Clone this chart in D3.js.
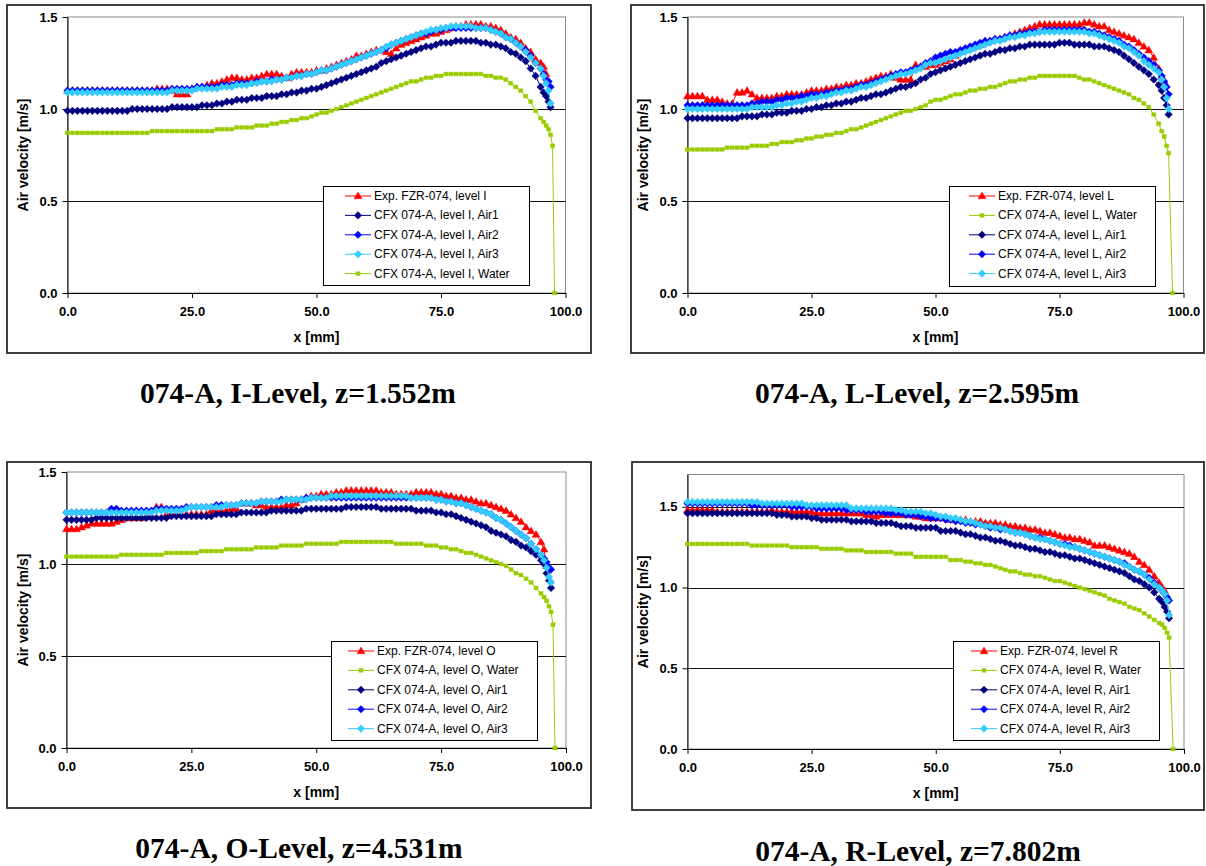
<!DOCTYPE html>
<html>
<head>
<meta charset="utf-8">
<script src="https://cdn.jsdelivr.net/npm/d3@7"></script>
<style>
  html, body { margin: 0; padding: 0; background: #fff; }
  svg { display: block; }
</style>
</head>
<body>
<svg id="chart" width="1206" height="866"></svg>
<script>
// Radial sample positions across the gap in mm; the last entries are the refined near-wall points.
const xGrid = [
  0,1,2,3,4,5,6,7,8,9,
  10,11,12,13,14,15,16,17,18,19,
  20,21,22,23,24,25,26,27,28,29,
  30,31,32,33,34,35,36,37,38,39,
  40,41,42,43,44,45,46,47,48,49,
  50,51,52,53,54,55,56,57,58,59,
  60,61,62,63,64,65,66,67,68,69,
  70,71,72,73,74,75,76,77,78,79,
  80,81,82,83,84,85,86,87,88,89,
  90,91,92,93,94,
  95,95.6,96.1,96.6,97.0,97.4,97.8
];

// ---- Level I, z = 1.552 m ----
const expI = [
  1.10,1.10,1.10,1.10,1.10,1.10,1.10,1.10,1.10,1.10,
  1.10,1.10,1.10,1.10,1.10,1.10,1.10,1.10,1.11,1.11,
  1.11,1.10,1.08,1.08,1.08,1.11,1.12,1.12,1.13,1.14,
  1.14,1.15,1.16,1.17,1.17,1.16,1.16,1.17,1.17,1.18,
  1.19,1.19,1.19,1.18,1.17,1.19,1.20,1.20,1.20,1.20,
  1.21,1.21,1.22,1.23,1.24,1.25,1.26,1.27,1.29,1.29,
  1.30,1.31,1.32,1.32,1.31,1.30,1.33,1.35,1.36,1.37,
  1.38,1.39,1.40,1.41,1.41,1.42,1.43,1.44,1.45,1.45,
  1.46,1.46,1.46,1.46,1.45,1.45,1.44,1.43,1.41,1.39,
  1.38,1.36,1.33,1.31,1.27,
  1.25,1.23,1.19
];
const airI1 = [
  0.99,0.99,0.99,0.99,0.99,0.99,0.99,0.99,0.99,0.99,
  0.99,0.99,0.99,1.00,1.00,1.00,1.00,1.00,1.00,1.00,
  1.00,1.01,1.01,1.01,1.01,1.01,1.01,1.02,1.02,1.02,
  1.03,1.03,1.04,1.04,1.05,1.05,1.05,1.06,1.06,1.06,
  1.07,1.07,1.07,1.08,1.08,1.09,1.09,1.10,1.10,1.11,
  1.11,1.12,1.13,1.14,1.15,1.16,1.17,1.18,1.19,1.20,
  1.21,1.22,1.23,1.25,1.26,1.27,1.28,1.29,1.30,1.31,
  1.32,1.33,1.34,1.34,1.35,1.36,1.36,1.36,1.37,1.37,
  1.37,1.37,1.37,1.36,1.36,1.35,1.35,1.34,1.33,1.31,
  1.30,1.28,1.26,1.22,1.18,
  1.12,1.09,1.07,1.04,1.01
];
const airI2 = [
  1.10,1.10,1.10,1.10,1.10,1.10,1.10,1.10,1.10,1.10,
  1.10,1.10,1.10,1.10,1.10,1.10,1.10,1.10,1.10,1.10,
  1.10,1.11,1.11,1.11,1.11,1.11,1.12,1.12,1.12,1.12,
  1.12,1.13,1.13,1.13,1.14,1.14,1.14,1.14,1.15,1.15,
  1.15,1.16,1.16,1.16,1.17,1.17,1.18,1.18,1.19,1.19,
  1.20,1.21,1.21,1.22,1.23,1.24,1.25,1.26,1.27,1.28,
  1.29,1.30,1.31,1.32,1.33,1.35,1.36,1.37,1.38,1.39,
  1.40,1.41,1.41,1.42,1.43,1.43,1.44,1.44,1.44,1.44,
  1.44,1.44,1.44,1.44,1.44,1.43,1.42,1.41,1.39,1.38,
  1.36,1.34,1.32,1.29,1.25,
  1.22,1.19,1.16,1.15,1.12
];
const airI3 = [
  1.09,1.09,1.09,1.09,1.09,1.09,1.09,1.09,1.09,1.09,
  1.09,1.09,1.09,1.09,1.09,1.09,1.09,1.09,1.09,1.09,
  1.09,1.10,1.10,1.10,1.10,1.10,1.11,1.11,1.11,1.11,
  1.11,1.12,1.12,1.12,1.13,1.13,1.13,1.14,1.14,1.15,
  1.15,1.15,1.16,1.16,1.17,1.17,1.18,1.18,1.19,1.19,
  1.20,1.21,1.21,1.22,1.23,1.24,1.25,1.26,1.27,1.28,
  1.29,1.30,1.31,1.32,1.34,1.35,1.36,1.37,1.38,1.39,
  1.40,1.41,1.42,1.43,1.43,1.44,1.44,1.45,1.45,1.45,
  1.45,1.45,1.44,1.44,1.44,1.43,1.42,1.41,1.39,1.38,
  1.36,1.34,1.31,1.28,1.25,
  1.22,1.18,1.14,1.10,1.03
];
const waterI = [
  0.87,0.87,0.87,0.87,0.87,0.87,0.87,0.87,0.87,0.87,
  0.87,0.87,0.87,0.87,0.87,0.87,0.87,0.88,0.88,0.88,
  0.88,0.88,0.88,0.88,0.88,0.88,0.88,0.88,0.88,0.88,
  0.89,0.89,0.89,0.89,0.90,0.90,0.90,0.90,0.91,0.91,
  0.91,0.92,0.92,0.93,0.93,0.94,0.94,0.95,0.95,0.96,
  0.97,0.98,0.98,0.99,1.00,1.01,1.02,1.03,1.04,1.05,
  1.06,1.07,1.08,1.09,1.10,1.11,1.12,1.13,1.14,1.15,
  1.15,1.16,1.17,1.17,1.18,1.18,1.19,1.19,1.19,1.19,
  1.19,1.19,1.19,1.19,1.18,1.18,1.17,1.17,1.16,1.14,
  1.12,1.10,1.07,1.04,0.99,
  0.95,0.93,0.91,0.89,0.86,0.80,0.00
];

// ---- Level L, z = 2.595 m ----
const expL = [
  1.07,1.07,1.07,1.07,1.05,1.05,1.05,1.04,1.03,1.03,
  1.09,1.09,1.10,1.08,1.06,1.06,1.06,1.06,1.07,1.07,
  1.08,1.08,1.08,1.08,1.09,1.10,1.10,1.10,1.11,1.11,
  1.12,1.12,1.13,1.13,1.14,1.14,1.15,1.16,1.17,1.18,
  1.18,1.19,1.17,1.16,1.16,1.16,1.24,1.23,1.23,1.24,
  1.24,1.25,1.26,1.27,1.29,1.31,1.32,1.33,1.34,1.35,
  1.36,1.37,1.38,1.38,1.39,1.40,1.41,1.42,1.43,1.44,
  1.45,1.46,1.46,1.46,1.46,1.46,1.46,1.46,1.46,1.46,
  1.47,1.47,1.46,1.45,1.45,1.43,1.42,1.41,1.40,1.39,
  1.38,1.36,1.34,1.32,1.28,
  1.22,1.18,1.15
];
const airL1 = [
  0.95,0.95,0.95,0.95,0.95,0.95,0.95,0.95,0.95,0.95,
  0.95,0.96,0.96,0.96,0.96,0.97,0.97,0.97,0.98,0.98,
  0.98,0.99,0.99,0.99,1.00,1.00,1.01,1.01,1.02,1.02,
  1.03,1.03,1.04,1.04,1.05,1.06,1.06,1.07,1.08,1.08,
  1.09,1.10,1.11,1.12,1.12,1.13,1.14,1.16,1.17,1.19,
  1.20,1.21,1.22,1.23,1.24,1.25,1.26,1.27,1.28,1.29,
  1.30,1.30,1.31,1.32,1.32,1.33,1.33,1.34,1.34,1.35,
  1.35,1.35,1.35,1.35,1.35,1.36,1.36,1.36,1.35,1.35,
  1.35,1.35,1.34,1.34,1.34,1.33,1.32,1.31,1.29,1.27,
  1.25,1.23,1.21,1.19,1.16,
  1.13,1.10,1.06,1.02,0.97
];
const airL2 = [
  1.02,1.02,1.02,1.02,1.02,1.02,1.02,1.02,1.02,1.02,
  1.02,1.02,1.02,1.03,1.03,1.04,1.04,1.04,1.05,1.05,
  1.06,1.06,1.06,1.07,1.07,1.08,1.08,1.08,1.09,1.09,
  1.10,1.10,1.11,1.11,1.12,1.13,1.13,1.14,1.15,1.16,
  1.17,1.18,1.19,1.20,1.20,1.21,1.22,1.23,1.25,1.26,
  1.28,1.29,1.30,1.31,1.31,1.32,1.33,1.34,1.35,1.36,
  1.37,1.37,1.38,1.38,1.39,1.40,1.40,1.41,1.41,1.42,
  1.42,1.42,1.43,1.43,1.43,1.43,1.43,1.43,1.43,1.43,
  1.43,1.42,1.42,1.41,1.40,1.39,1.38,1.37,1.35,1.34,
  1.32,1.30,1.28,1.26,1.24,
  1.21,1.18,1.15,1.12,1.08
];
const airL3 = [
  1.00,1.00,1.00,1.00,1.00,1.00,1.00,1.00,1.00,1.00,
  1.00,1.00,1.00,1.01,1.01,1.01,1.01,1.01,1.02,1.02,
  1.03,1.03,1.04,1.04,1.05,1.06,1.06,1.07,1.07,1.08,
  1.09,1.09,1.10,1.10,1.11,1.12,1.12,1.13,1.14,1.15,
  1.16,1.17,1.18,1.19,1.19,1.20,1.21,1.22,1.24,1.25,
  1.25,1.26,1.27,1.28,1.29,1.30,1.31,1.32,1.33,1.34,
  1.35,1.36,1.37,1.37,1.38,1.39,1.39,1.40,1.40,1.41,
  1.41,1.42,1.42,1.42,1.42,1.42,1.42,1.42,1.42,1.42,
  1.42,1.41,1.41,1.40,1.39,1.38,1.37,1.36,1.34,1.33,
  1.31,1.29,1.26,1.24,1.22,
  1.20,1.16,1.12,1.06,1.00
];
const waterL = [
  0.78,0.78,0.78,0.78,0.78,0.78,0.78,0.78,0.79,0.79,
  0.79,0.79,0.79,0.80,0.80,0.80,0.80,0.81,0.81,0.82,
  0.82,0.82,0.83,0.83,0.84,0.84,0.85,0.85,0.86,0.86,
  0.87,0.87,0.88,0.89,0.89,0.90,0.91,0.92,0.93,0.94,
  0.95,0.96,0.97,0.98,0.99,0.99,1.00,1.01,1.02,1.04,
  1.05,1.05,1.06,1.07,1.08,1.08,1.09,1.10,1.10,1.11,
  1.11,1.12,1.12,1.13,1.14,1.15,1.15,1.16,1.16,1.17,
  1.17,1.18,1.18,1.18,1.18,1.18,1.18,1.18,1.18,1.17,
  1.16,1.16,1.15,1.14,1.13,1.12,1.11,1.10,1.09,1.08,
  1.06,1.05,1.03,1.01,0.97,
  0.92,0.88,0.85,0.80,0.76,null,0.00
];

// ---- Level O, z = 4.531 m ----
const expO = [
  1.19,1.19,1.19,1.20,1.21,1.22,1.22,1.22,1.22,1.22,
  1.23,1.24,1.25,1.25,1.25,1.25,1.26,1.26,1.31,1.31,
  1.27,1.27,1.27,1.27,1.27,1.27,1.27,1.27,1.27,1.29,
  1.29,1.29,1.29,1.30,1.30,1.33,1.33,1.33,1.32,1.32,
  1.31,1.31,1.31,1.31,1.32,1.32,1.33,1.35,1.36,1.37,
  1.37,1.38,1.38,1.38,1.39,1.39,1.40,1.40,1.40,1.40,
  1.40,1.40,1.40,1.39,1.39,1.39,1.38,1.38,1.38,1.38,
  1.39,1.39,1.39,1.39,1.38,1.38,1.37,1.37,1.36,1.36,
  1.35,1.35,1.34,1.33,1.33,1.32,1.31,1.30,1.29,1.27,
  1.25,1.23,1.20,1.18,1.16,
  1.12,1.08,0.99
];
const airO1 = [
  1.24,1.24,1.24,1.24,1.24,1.24,1.25,1.25,1.25,1.25,
  1.25,1.25,1.25,1.25,1.25,1.25,1.25,1.25,1.25,1.25,
  1.25,1.26,1.26,1.26,1.26,1.26,1.26,1.26,1.26,1.26,
  1.27,1.27,1.27,1.27,1.27,1.28,1.28,1.28,1.28,1.28,
  1.28,1.29,1.29,1.29,1.29,1.29,1.29,1.29,1.30,1.30,
  1.30,1.30,1.30,1.30,1.30,1.30,1.31,1.31,1.31,1.31,
  1.31,1.31,1.31,1.30,1.30,1.30,1.30,1.30,1.30,1.30,
  1.29,1.29,1.29,1.29,1.28,1.28,1.27,1.27,1.26,1.25,
  1.24,1.23,1.22,1.21,1.20,1.18,1.17,1.16,1.15,1.13,
  1.12,1.10,1.09,1.07,1.05,
  1.02,1.00,0.95,0.91,0.87
];
const airO2 = [
  1.28,1.28,1.28,1.28,1.28,1.28,1.28,1.28,1.28,1.30,
  1.30,1.29,1.29,1.29,1.29,1.29,1.29,1.29,1.30,1.30,
  1.30,1.30,1.30,1.30,1.31,1.31,1.31,1.31,1.31,1.31,
  1.32,1.32,1.32,1.32,1.32,1.33,1.33,1.33,1.33,1.34,
  1.34,1.34,1.34,1.35,1.35,1.35,1.35,1.35,1.36,1.36,
  1.36,1.36,1.36,1.36,1.36,1.36,1.36,1.36,1.36,1.36,
  1.36,1.36,1.36,1.36,1.36,1.36,1.36,1.36,1.36,1.36,
  1.36,1.36,1.36,1.36,1.35,1.35,1.34,1.34,1.33,1.33,
  1.32,1.31,1.30,1.29,1.28,1.27,1.25,1.24,1.22,1.20,
  1.18,1.16,1.14,1.11,1.08,
  1.05,1.03,1.01,0.98,0.97
];
const airO3 = [
  1.28,1.28,1.28,1.28,1.28,1.28,1.28,1.28,1.28,1.28,
  1.28,1.28,1.28,1.28,1.28,1.28,1.28,1.28,1.29,1.29,
  1.29,1.29,1.29,1.29,1.30,1.31,1.31,1.31,1.31,1.31,
  1.31,1.31,1.32,1.32,1.32,1.33,1.33,1.33,1.33,1.34,
  1.34,1.34,1.34,1.34,1.35,1.35,1.35,1.35,1.35,1.36,
  1.36,1.36,1.36,1.37,1.37,1.37,1.37,1.37,1.37,1.37,
  1.37,1.37,1.37,1.37,1.37,1.37,1.37,1.37,1.37,1.36,
  1.36,1.36,1.36,1.36,1.35,1.35,1.34,1.34,1.33,1.33,
  1.32,1.31,1.30,1.29,1.28,1.27,1.25,1.24,1.22,1.20,
  1.18,1.16,1.14,1.11,1.08,
  1.05,1.02,0.98,0.93,0.90
];
const waterO = [
  1.04,1.04,1.04,1.04,1.04,1.04,1.04,1.04,1.04,1.04,
  1.04,1.05,1.05,1.05,1.05,1.05,1.05,1.05,1.05,1.05,
  1.06,1.06,1.06,1.06,1.06,1.06,1.06,1.07,1.07,1.07,
  1.07,1.07,1.08,1.08,1.08,1.08,1.08,1.08,1.09,1.09,
  1.09,1.09,1.09,1.10,1.10,1.10,1.10,1.10,1.11,1.11,
  1.11,1.11,1.11,1.11,1.11,1.12,1.12,1.12,1.12,1.12,
  1.12,1.12,1.12,1.12,1.12,1.12,1.11,1.11,1.11,1.11,
  1.11,1.11,1.10,1.10,1.10,1.09,1.09,1.08,1.08,1.07,
  1.06,1.06,1.05,1.04,1.03,1.02,1.01,1.00,0.99,0.97,
  0.95,0.94,0.92,0.90,0.87,
  0.84,0.82,0.80,0.77,0.74,0.67,0.00
];

// ---- Level R, z = 7.802 m ----
const expR = [
  1.48,1.48,1.48,1.48,1.48,1.48,1.47,1.47,1.47,1.47,
  1.47,1.47,1.47,1.47,1.47,1.47,1.47,1.48,1.47,1.47,
  1.47,1.47,1.47,1.47,1.47,1.47,1.46,1.46,1.46,1.46,
  1.46,1.46,1.46,1.46,1.46,1.46,1.45,1.45,1.44,1.45,
  1.45,1.45,1.45,1.45,1.45,1.45,1.44,1.44,1.43,1.43,
  1.43,1.43,1.43,1.42,1.42,1.42,1.42,1.41,1.41,1.41,
  1.40,1.40,1.40,1.39,1.39,1.38,1.38,1.37,1.37,1.36,
  1.36,1.35,1.34,1.34,1.33,1.32,1.31,1.31,1.30,1.30,
  1.29,1.28,1.26,1.26,1.26,1.25,1.24,1.23,1.22,1.21,
  1.19,1.16,1.14,1.11,1.07,
  1.03,1.00,0.98
];
const airR1 = [
  1.46,1.46,1.46,1.46,1.46,1.46,1.46,1.46,1.46,1.46,
  1.46,1.46,1.46,1.46,1.46,1.46,1.46,1.46,1.45,1.45,
  1.45,1.44,1.44,1.44,1.44,1.43,1.43,1.42,1.42,1.42,
  1.42,1.42,1.42,1.41,1.41,1.41,1.41,1.41,1.40,1.40,
  1.40,1.40,1.39,1.38,1.38,1.38,1.37,1.37,1.37,1.37,
  1.37,1.35,1.35,1.35,1.35,1.34,1.33,1.33,1.32,1.31,
  1.31,1.30,1.29,1.29,1.28,1.27,1.26,1.26,1.25,1.24,
  1.24,1.23,1.22,1.22,1.21,1.20,1.20,1.19,1.18,1.18,
  1.17,1.16,1.15,1.14,1.13,1.12,1.11,1.10,1.09,1.07,
  1.05,1.04,1.02,1.00,0.97,
  0.93,0.91,0.88,0.85,0.81
];
const airR2 = [
  1.52,1.52,1.52,1.52,1.52,1.52,1.52,1.52,1.52,1.52,
  1.52,1.52,1.52,1.51,1.51,1.51,1.51,1.51,1.51,1.51,
  1.51,1.50,1.50,1.50,1.50,1.50,1.49,1.49,1.49,1.49,
  1.49,1.49,1.48,1.48,1.48,1.48,1.47,1.47,1.47,1.47,
  1.46,1.46,1.46,1.46,1.45,1.45,1.45,1.44,1.44,1.43,
  1.43,1.43,1.42,1.42,1.41,1.41,1.40,1.40,1.39,1.39,
  1.38,1.37,1.37,1.36,1.36,1.35,1.34,1.34,1.33,1.32,
  1.31,1.31,1.30,1.29,1.28,1.27,1.27,1.26,1.25,1.24,
  1.23,1.22,1.21,1.20,1.19,1.18,1.17,1.16,1.15,1.13,
  1.11,1.10,1.08,1.06,1.03,
  1.00,0.98,0.96,0.94,0.92
];
const airR3 = [
  1.53,1.53,1.53,1.53,1.53,1.53,1.53,1.53,1.53,1.53,
  1.53,1.53,1.53,1.53,1.53,1.52,1.52,1.52,1.52,1.52,
  1.52,1.52,1.52,1.52,1.51,1.51,1.51,1.51,1.51,1.51,
  1.51,1.51,1.51,1.49,1.49,1.49,1.49,1.49,1.49,1.49,
  1.49,1.49,1.48,1.48,1.47,1.47,1.47,1.47,1.46,1.46,
  1.45,1.44,1.44,1.43,1.43,1.42,1.41,1.41,1.40,1.39,
  1.38,1.38,1.37,1.37,1.36,1.35,1.34,1.34,1.33,1.32,
  1.31,1.30,1.30,1.29,1.28,1.27,1.26,1.25,1.25,1.24,
  1.23,1.22,1.21,1.20,1.19,1.18,1.17,1.16,1.14,1.13,
  1.11,1.10,1.08,1.05,1.02,
  1.00,0.98,0.96,0.92,0.83
];
const waterR = [
  1.27,1.27,1.27,1.27,1.27,1.27,1.27,1.27,1.27,1.27,
  1.27,1.27,1.27,1.26,1.26,1.26,1.26,1.26,1.26,1.26,
  1.26,1.25,1.25,1.25,1.25,1.25,1.25,1.24,1.24,1.24,
  1.24,1.24,1.23,1.23,1.23,1.23,1.22,1.22,1.22,1.22,
  1.22,1.22,1.21,1.21,1.21,1.21,1.19,1.19,1.19,1.19,
  1.19,1.19,1.19,1.17,1.17,1.17,1.16,1.16,1.15,1.15,
  1.14,1.14,1.13,1.12,1.11,1.10,1.10,1.09,1.08,1.08,
  1.07,1.07,1.06,1.05,1.04,1.04,1.03,1.02,1.01,1.00,
  0.99,0.98,0.97,0.96,0.95,0.93,0.92,0.91,0.90,0.88,
  0.87,0.86,0.84,0.82,0.80,
  0.78,0.77,0.75,0.72,0.69,null,0.00
];

// Axis ticks
const xTicks = [0, 25, 50, 75, 100];
const yTicks = [0, 0.5, 1.0, 1.5];

// Measurement levels, in the order the four charts are laid out
const levelKeys = ["I", "L", "O", "R"];
const levelTitles = [
  "074-A, I-Level, z=1.552m",
  "074-A, L-Level, z=2.595m",
  "074-A, O-Level, z=4.531m",
  "074-A, R-Level, z=7.802m"
];
const levelSeries = [
  { exp: expI, air1: airI1, air2: airI2, air3: airI3, water: waterI },
  { exp: expL, air1: airL1, air2: airL2, air3: airL3, water: waterL },
  { exp: expO, air1: airO1, air2: airO2, air3: airO3, water: waterO },
  { exp: expR, air1: airR1, air2: airR2, air3: airR3, water: waterR }
];
// Series order (drawing order and legend order) per chart
const levelOrder = [
  ["exp", "air1", "air2", "air3", "water"],
  ["exp", "water", "air1", "air2", "air3"],
  ["exp", "water", "air1", "air2", "air3"],
  ["exp", "water", "air1", "air2", "air3"]
];
const seriesLabel = {
  exp:   k => `Exp. FZR-074, level ${k}`,
  air1:  k => `CFX 074-A, level ${k}, Air1`,
  air2:  k => `CFX 074-A, level ${k}, Air2`,
  air3:  k => `CFX 074-A, level ${k}, Air3`,
  water: k => `CFX 074-A, level ${k}, Water`
};

// ---- Appearance ----
const seriesStyle = {
  exp:   { color: "#FF0000", shape: "triangle" },
  air1:  { color: "#000080", shape: "diamond" },
  air2:  { color: "#0000FF", shape: "diamond" },
  air3:  { color: "#33CCFF", shape: "diamond" },
  water: { color: "#99CC00", shape: "square" }
};
const markerPath = {
  triangle: "M0,-4L4,2.8L-4,2.8Z",
  diamond:  "M0,-3.8L3.8,0L0,3.8L-3.8,0Z",
  square:   "M-2.1,-1.9H2.1V1.9H-2.1Z"
};

// Frame, plot area and legend geometry of each chart
const layout = [
  { box: [7, 5, 591, 353],    plot: [67.5, 17, 565.5, 293],  yMax: 1.5,
    legend: [323, 186, 206, 99],  legLine: [345, 371], legText: 374,
    title: [298, 393], yTitleX: 23 },
  { box: [631, 5, 1204, 353], plot: [687.5, 17, 1183.5, 293], yMax: 1.5,
    legend: [949, 186, 206, 100], legLine: [969, 995], legText: 998,
    title: [917, 393], yTitleX: 643 },
  { box: [7, 462, 591, 808],  plot: [66.5, 472, 566, 748],  yMax: 1.5,
    legend: [331, 641, 206, 99],  legLine: [348, 374], legText: 377,
    title: [299, 848], yTitleX: 23 },
  { box: [632, 462, 1204, 810], plot: [687.5, 474.5, 1184, 749], yMax: 1.7,
    legend: [953, 641, 206, 99],  legLine: [971, 997], legText: 1000,
    title: [918, 851], yTitleX: 643 }
];

const SANS = "'Liberation Sans', Arial, Helvetica, sans-serif";
const SERIF = "'Liberation Serif', 'Times New Roman', Times, serif";
const fmt = d3.format(".1f");
const svg = d3.select("#chart");

levelKeys.forEach((key, li) => {
  const L = layout[li];
  const g = svg.append("g");

  // outer frame of the chart
  g.append("rect")
    .attr("x", L.box[0]).attr("y", L.box[1])
    .attr("width", L.box[2] - L.box[0]).attr("height", L.box[3] - L.box[1])
    .attr("fill", "#fff").attr("stroke", "#2a2a2a").attr("stroke-width", 1.8);

  const x = d3.scaleLinear().domain([0, 100]).range([L.plot[0], L.plot[2]]);
  const y = d3.scaleLinear().domain([0, L.yMax]).range([L.plot[3], L.plot[1]]);

  // plot area border
  g.append("rect")
    .attr("x", L.plot[0]).attr("y", L.plot[1])
    .attr("width", L.plot[2] - L.plot[0]).attr("height", L.plot[3] - L.plot[1])
    .attr("fill", "#fff").attr("stroke", "#8a8a8a").attr("stroke-width", 1);

  // horizontal gridlines
  g.append("g").selectAll("line")
    .data(yTicks.filter(t => t > 0 && t < L.yMax - 1e-9))
    .join("line")
    .attr("x1", L.plot[0]).attr("x2", L.plot[2])
    .attr("y1", d => Math.round(y(d)) + 0.5).attr("y2", d => Math.round(y(d)) + 0.5)
    .attr("stroke", "#111").attr("stroke-width", 1);

  // axes
  const yAxis = g.append("g")
    .attr("transform", `translate(${L.plot[0]},0)`)
    .call(d3.axisLeft(y).tickValues(yTicks).tickFormat(fmt)
      .tickSize(5).tickSizeOuter(0).tickPadding(5));
  const xAxis = g.append("g")
    .attr("transform", `translate(0,${L.plot[3]})`)
    .call(d3.axisBottom(x).tickValues(xTicks).tickFormat(fmt)
      .tickSize(5).tickSizeOuter(0).tickPadding(9));
  [yAxis, xAxis].forEach(a => {
    a.selectAll("path.domain").attr("stroke", "#000").attr("stroke-width", 1);
    a.selectAll(".tick line").attr("stroke", "#000").attr("stroke-width", 1);
    a.selectAll(".tick text")
      .attr("fill", "#000")
      .style("font-family", SANS).style("font-size", "13px").style("font-weight", "bold");
  });

  // axis titles
  g.append("text")
    .attr("x", (L.plot[0] + L.plot[2]) / 2).attr("y", L.plot[3] + 44)
    .attr("text-anchor", "middle").attr("dominant-baseline", "central")
    .style("font-family", SANS).style("font-size", "14px").style("font-weight", "bold")
    .text("x [mm]");
  g.append("text")
    .attr("transform", `translate(${L.yTitleX},${(L.plot[1] + L.plot[3]) / 2}) rotate(-90)`)
    .attr("text-anchor", "middle").attr("dominant-baseline", "central")
    .style("font-family", SANS).style("font-size", "14px").style("font-weight", "bold")
    .text("Air velocity [m/s]");

  // data series: connecting line, then markers
  const line = d3.line().x(d => x(d.x)).y(d => y(d.v));
  levelOrder[li].forEach(s => {
    const st = seriesStyle[s];
    const pts = levelSeries[li][s]
      .map((v, i) => ({ x: xGrid[i], v }))
      .filter(d => d.v !== null);
    const sg = g.append("g");
    sg.append("path").datum(pts).attr("d", line)
      .attr("fill", "none").attr("stroke", st.color).attr("stroke-width", 1);
    sg.selectAll("path.m").data(pts).join("path").attr("class", "m")
      .attr("d", markerPath[st.shape])
      .attr("transform", d => `translate(${x(d.x)},${y(d.v)})`)
      .attr("fill", st.color).attr("stroke", st.color).attr("stroke-width", 0.4);
  });

  // legend
  const [lx, ly, lw, lh] = L.legend;
  const lg = g.append("g");
  lg.append("rect").attr("x", lx + 0.5).attr("y", ly + 0.5).attr("width", lw).attr("height", lh)
    .attr("fill", "#fff").attr("stroke", "#000").attr("stroke-width", 1);
  levelOrder[li].forEach((s, i) => {
    const st = seriesStyle[s];
    const cy = ly + 10 + i * 19.4;
    lg.append("line")
      .attr("x1", L.legLine[0]).attr("x2", L.legLine[1]).attr("y1", cy).attr("y2", cy)
      .attr("stroke", st.color).attr("stroke-width", 1);
    lg.append("path").attr("d", markerPath[st.shape])
      .attr("transform", `translate(${(L.legLine[0] + L.legLine[1]) / 2},${cy})`)
      .attr("fill", st.color).attr("stroke", st.color).attr("stroke-width", 0.4);
    lg.append("text").attr("x", L.legText).attr("y", cy)
      .attr("dominant-baseline", "central")
      .style("font-family", SANS).style("font-size", "12px")
      .text(seriesLabel[s](key));
  });

  // caption below the chart
  svg.append("text")
    .attr("x", L.title[0]).attr("y", L.title[1])
    .attr("text-anchor", "middle").attr("dominant-baseline", "central")
    .style("font-family", SERIF).style("font-size", "29.5px").style("font-weight", "bold")
    .text(levelTitles[li]);
});
</script>
</body>
</html>
